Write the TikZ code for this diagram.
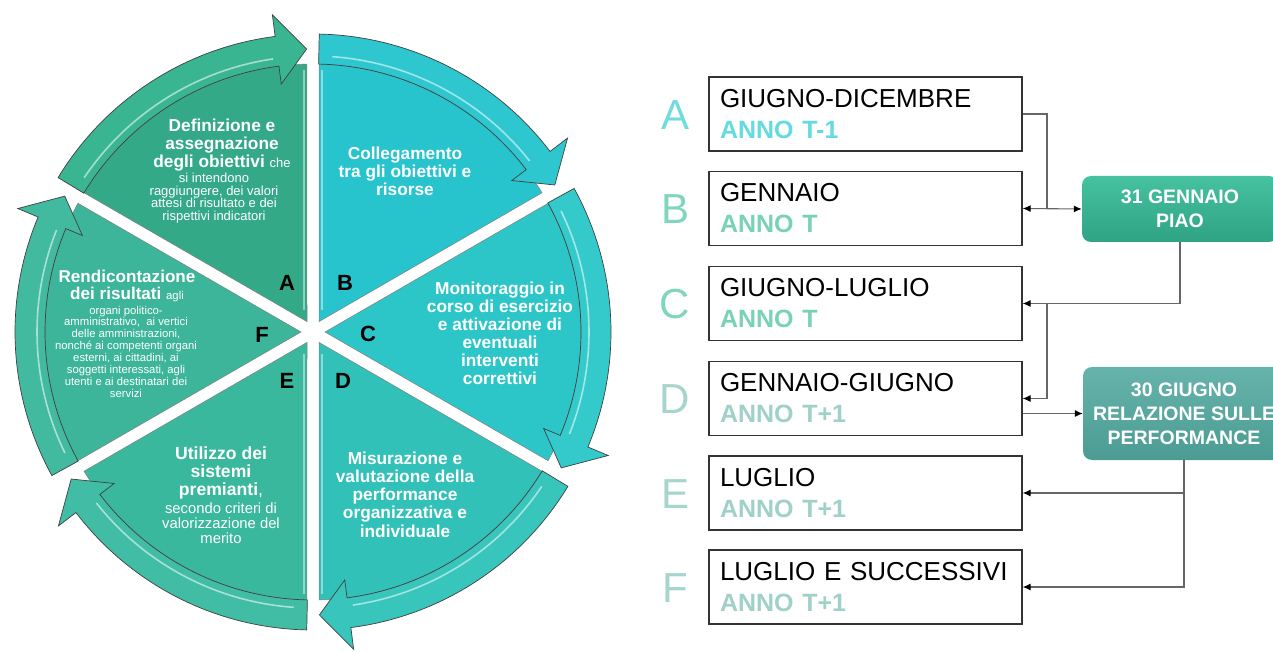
\documentclass[tikz,border=0pt]{standalone}
\usepackage{fontspec}
\setmainfont{Liberation Sans}
\usetikzlibrary{arrows.meta}
\definecolor{secA}{HTML}{34A987}
\definecolor{bandA}{HTML}{3AB592}
\definecolor{secB}{HTML}{27C4CE}
\definecolor{bandB}{HTML}{2EC7D0}
\definecolor{secC}{HTML}{2DC6C8}
\definecolor{bandC}{HTML}{34CACB}
\definecolor{secD}{HTML}{32C1B8}
\definecolor{bandD}{HTML}{37C5BC}
\definecolor{secE}{HTML}{39B89E}
\definecolor{bandE}{HTML}{40BDA4}
\definecolor{secF}{HTML}{3CB59A}
\definecolor{bandF}{HTML}{42BAA0}
\definecolor{letA}{HTML}{70DCE0}
\definecolor{letB}{HTML}{80D6BC}
\definecolor{letD}{HTML}{A6D5CD}
\definecolor{annoA}{HTML}{64DAE1}
\definecolor{annoB}{HTML}{78D2B4}
\definecolor{annoD}{HTML}{9FD1C8}
\definecolor{piaoTop}{HTML}{46C2A0}
\definecolor{piaoBot}{HTML}{2FA384}
\definecolor{relTop}{HTML}{66B3AB}
\definecolor{relBot}{HTML}{4C9C94}
\begin{document}
\begin{tikzpicture}[x=1pt,y=1pt,
  bigb/.style={text=white, font=\bfseries\fontsize{17.3}{18}\selectfont, align=center, inner sep=0pt},
  smallA/.style={text=white, font=\fontsize{13}{12.7}\selectfont, align=center, inner sep=0pt},
  smallE/.style={text=white, font=\fontsize{14.8}{15}\selectfont, align=center, inner sep=0pt},
  smallF/.style={text=white, font=\fontsize{11.3}{11.86}\selectfont, align=center, inner sep=0pt},
  seclet/.style={text=black, font=\bfseries\fontsize{22}{22}\selectfont, inner sep=0pt},
  datebox/.style={draw=black!80, line width=1.3pt, minimum width=313pt, minimum height=74pt,
    text width=291pt, inner xsep=11pt, inner ysep=0pt, align=left, font=\fontsize{26}{31}\selectfont},
  rowlet/.style={font=\fontsize{42}{42}\selectfont, inner sep=0pt},
  keybox/.style={rounded corners=9pt, text=white, align=center, inner sep=0pt,
    font=\bfseries\fontsize{19.5}{24}\selectfont},
  conn/.style={draw=black!60, line width=1.1pt},
  arr/.style={conn, -{Latex[length=8pt,width=7pt,color=black]}},
  dbl/.style={conn, {Latex[length=8pt,width=7pt,color=black]}-{Latex[length=8pt,width=7pt,color=black]}}
]
\useasboundingbox (0,0) rectangle (1273,651);
\clip (0,0) rectangle (1273,651);
\fill[white] (0,0) rectangle (1273,651);

% ---------------- circle ----------------
\begin{scope}[shift={(313,319)}]
\foreach \sa/\wc/\bc in {150/secA/bandA, 90/secB/bandB, 30/secC/bandC, -30/secD/bandD, 270/secE/bandE, 210/secF/bandF}{
  \pgfmathsetmacro\myea{\sa-60}
  \pgfmathsetmacro\mymid{\sa-30}
  \pgfmathsetmacro\myta{\sa-1.2}
  \pgfmathsetmacro\myhb{\myea+7.3}
  \pgfmathsetmacro\mytip{\myea+1.3}
  \pgfmathsetmacro\mywa{\sa-1.3}
  \pgfmathsetmacro\mywb{\myea+1.3}
  \pgfmathsetmacro\myhl{\sa-4}
  \pgfmathsetmacro\myhe{\myhb+1}
  \filldraw[fill=\wc, draw=black!50, line width=0.5pt] (\mymid:12) -- (\mywa:268) arc[start angle=\mywa, end angle=\mywb, radius=268pt] -- cycle;
  \filldraw[fill=\bc, draw=black!75, line width=0.7pt] (\myta:298) arc[start angle=\myta, end angle=\myhb, radius=298pt]
     -- (\myhb:320) -- (\mytip:283) -- (\myhb:250) -- (\myhb:268)
     arc[start angle=\myhb, end angle=\myta, radius=268pt] -- cycle;
  \draw[white, opacity=0.55, line width=1.6pt] (\myhl:276) arc[start angle=\myhl, end angle=\myhe, radius=276pt];
}
\draw[white, opacity=0.45, line width=2.5pt] (-9,22) -- (-9,262);
\draw[white, opacity=0.45, line width=2.5pt] (9,22) -- (9,262);
\draw[white, opacity=0.45, line width=2.5pt] (9,-22) -- (9,-262);
\draw[white, opacity=0.45, line width=2.5pt] (-9,-22) -- (-9,-262);
\node[seclet] (lA) at (-26,49) {A};
\node[seclet] (lB) at (32,49) {B};
\node[seclet] (lC) at (55,-2) {C};
\node[seclet] (lD) at (30,-49) {D};
\node[seclet] (lE) at (-26,-49) {E};
\node[seclet] (lF) at (-51,-3) {F};
\end{scope}

% sector texts
\node[bigb] (tA) at (222,506) {Definizione e\\assegnazione\\degli obiettivi {\mdseries\fontsize{13}{13}\selectfont che}};
\node[smallA] (tAs) at (214,453) {si intendono\\raggiungere, dei valori\\attesi di risultato e dei\\rispettivi indicatori};
\node[bigb] (tB) at (405,480) {Collegamento\\tra gli obiettivi e\\risorse};
\node[bigb] (tC) at (500,318) {Monitoraggio in\\corso di esercizio\\e attivazione di\\eventuali\\interventi\\correttivi};
\node[bigb, font=\bfseries\fontsize{17.3}{18.25}\selectfont] (tD) at (405,156.5) {Misurazione e\\valutazione della\\performance\\organizzativa e\\individuale};
\node[bigb, font=\bfseries\fontsize{17.6}{18}\selectfont] (tE) at (221,178) {Utilizzo dei\\sistemi\\premianti{\mdseries,}};
\node[smallE] (tEs) at (221,128) {secondo criteri di\\valorizzazione del\\merito};
\node[bigb, font=\bfseries\fontsize{17.1}{17}\selectfont] (tF) at (127,365.5) {Rendicontazione\\dei risultati {\mdseries\fontsize{11.3}{11.3}\selectfont agli}};
\node[smallF] (tFs) at (126,299.5) {organi politico-\\amministrativo,~ ai vertici\\delle amministrazioni,\\nonché ai competenti organi\\esterni, ai cittadini, ai\\soggetti interessati, agli\\utenti e ai destinatari dei\\servizi};

% ---------------- timeline ----------------
\node[datebox] (bA) at (865.5,537) {GIUGNO-DICEMBRE\\{\bfseries\fontsize{25}{31}\selectfont\color{annoA}ANNO T-1}};
\node[datebox] (bB) at (865.5,442.5) {GENNAIO\\{\bfseries\fontsize{25}{31}\selectfont\color{annoB}ANNO T}};
\node[datebox] (bC) at (865.5,347.5) {GIUGNO-LUGLIO\\{\bfseries\fontsize{25}{31}\selectfont\color{annoB}ANNO T}};
\node[datebox] (bD) at (865.5,252.5) {GENNAIO-GIUGNO\\{\bfseries\fontsize{25}{31}\selectfont\color{annoD}ANNO T+1}};
\node[datebox] (bE) at (865.5,158) {LUGLIO\\{\bfseries\fontsize{25}{31}\selectfont\color{annoD}ANNO T+1}};
\node[datebox] (bF) at (865.5,64) {LUGLIO E SUCCESSIVI\\{\bfseries\fontsize{25}{31}\selectfont\color{annoD}ANNO T+1}};

\node[rowlet, text=letA] (rA) at (675,536) {A};
\node[rowlet, text=letB] (rB) at (675,441.5) {B};
\node[rowlet, text=letB] (rC) at (675,346.5) {C};
\node[rowlet, text=letD] (rD) at (675,251.5) {D};
\node[rowlet, text=letD] (rE) at (675,157) {E};
\node[rowlet, text=letD] (rF) at (675,63) {F};

\node[keybox, top color=piaoTop, bottom color=piaoBot, minimum width=196pt, minimum height=66pt] (piao) at (1180,442) {31 GENNAIO\\PIAO};
\node[keybox, top color=relTop, bottom color=relBot, minimum width=202pt, minimum height=93pt] (rel) at (1184,237.5) {30 GIUGNO\\RELAZIONE SULLE\\PERFORMANCE};

\coordinate (j1) at (1047,442.5);
\coordinate (j2) at (1047,347.5);

\draw[conn] (bA.east) -| (j1);
\draw[dbl] (bB.east) -- (piao.west);
\draw[arr] (piao.south) |- (bC.east);
\draw[arr] (j2) |- (bD.east);
\draw[arr] (bD.east |- rel.west) -- (rel.west);
\draw[arr] (rel.south) |- (bE.east);
\draw[arr] (rel.south) |- (bF.east);
\end{tikzpicture}
\end{document}
